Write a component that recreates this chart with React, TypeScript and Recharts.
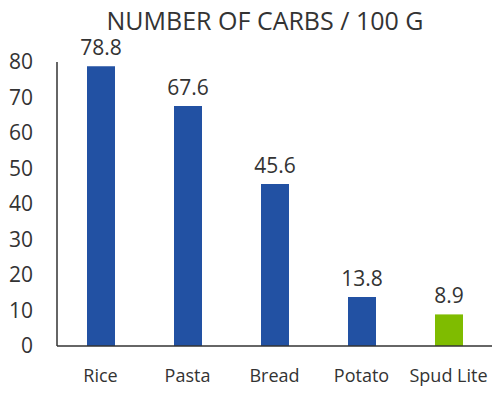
import React from "react";
import { BarChart, Bar, XAxis, YAxis, Cell, LabelList } from "recharts";

const categories = ["Rice", "Pasta", "Bread", "Potato", "Spud Lite"];
const carbs = [78.8, 67.6, 45.6, 13.8, 8.9];
const barColors = ["#2251a3", "#2251a3", "#2251a3", "#2251a3", "#7fbc00"];
const yTicks = [0, 10, 20, 30, 40, 50, 60, 70, 80];
const title = "NUMBER OF CARBS / 100 G";

const data = categories.map((name, i) => ({ name, value: carbs[i] }));
const FONT = "'Open Sans', sans-serif";

export default function App() {
  return (
    <div style={{ position: "absolute", left: 0, top: 0, width: 501, height: 399, fontFamily: FONT }}>
      <div
        style={{
          position: "absolute",
          left: 0,
          top: 4,
          width: 530,
          textAlign: "center",
          fontSize: 25,
          color: "#333",
          fontFamily: FONT,
          lineHeight: "32px",
        }}
      >
        {title}
      </div>
      <BarChart width={501} height={399} data={data} margin={{ top: 62, right: 9, bottom: 0, left: 0 }} barCategoryGap={29}>
        <YAxis
          domain={[0, 80]}
          ticks={yTicks}
          width={57}
          tickLine={false}
          tickSize={0}
          tickMargin={24}
          axisLine={{ stroke: "#333", strokeWidth: 1.5 }}
          tick={{ fill: "#333", fontSize: 21, fontFamily: FONT }}
          interval={0}
        />
        <XAxis
          dataKey="name"
          height={53}
          tickLine={false}
          tickSize={0}
          tickMargin={23}
          axisLine={{ stroke: "#333", strokeWidth: 1.5 }}
          tick={{ fill: "#333", fontSize: 18, fontFamily: FONT }}
          interval={0}
        />
        <Bar dataKey="value" isAnimationActive={false} barSize={28}>
          {data.map((d, i) => (
            <Cell key={d.name} fill={barColors[i]} />
          ))}
          <LabelList dataKey="value" position="top" offset={11} fill="#333" fontSize={21} fontFamily={FONT} />
        </Bar>
      </BarChart>
    </div>
  );
}
